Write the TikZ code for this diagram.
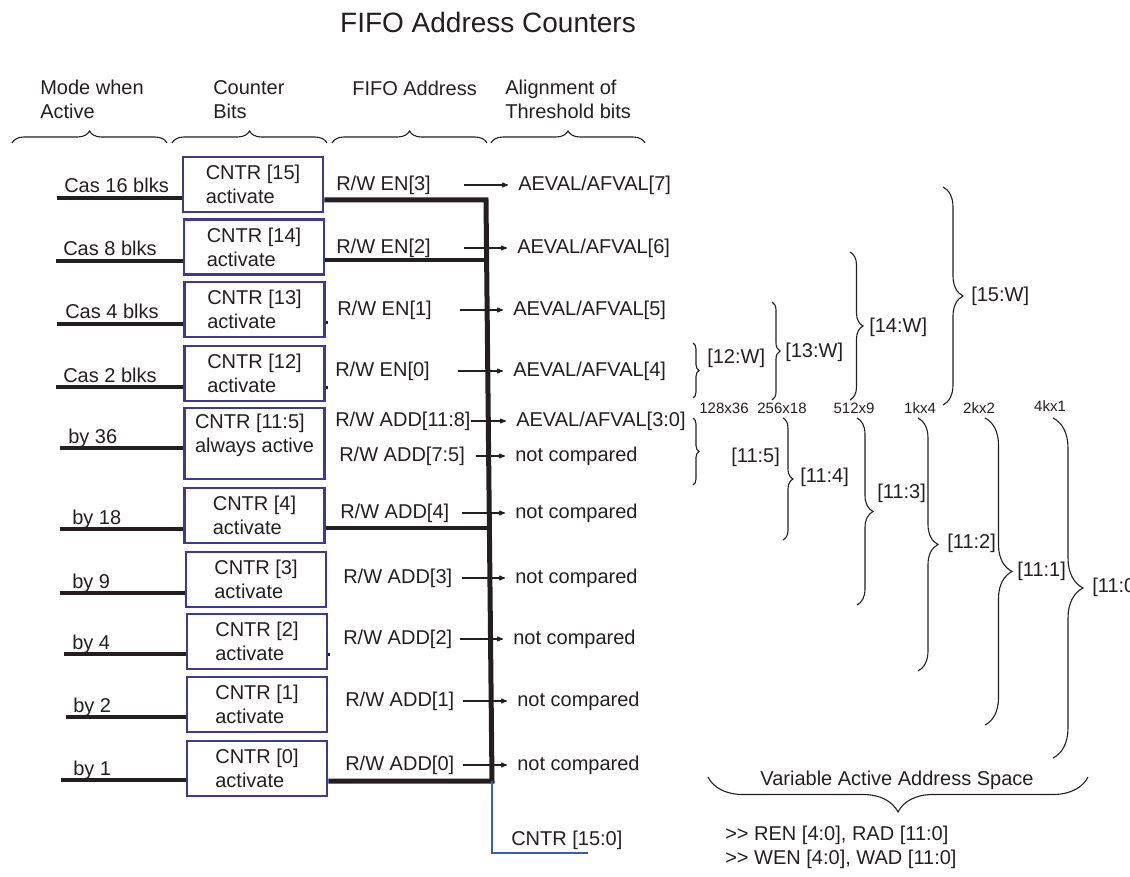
\documentclass[tikz,border=0pt]{standalone}
\usepackage{fontspec}
\setmainfont{Liberation Sans}
\usetikzlibrary{arrows,decorations.pathreplacing}
\definecolor{boxblue}{RGB}{62,56,150}
\definecolor{wireblue}{RGB}{60,92,180}
\definecolor{ink}{RGB}{35,31,32}

\begin{document}
\begin{tikzpicture}[x=1pt,y=-1pt,>=stealth',semithick,
	every node/.style={font=\fontsize{20}{24}\selectfont,text=ink,inner sep=0pt},
	cntr/.style={draw=boxblue,line width=2.5pt,minimum width=140pt,minimum height=55pt,align=left},
	wire/.style={draw=ink,line width=4.5pt},
	tick/.style={->,draw=ink,line width=1.1pt,shorten >=10pt},
	brc/.style={draw=ink,line width=1.1pt,decorate,decoration={brace,amplitude=#1}},
	small/.style={font=\fontsize{15}{18}\selectfont}]
		\useasboundingbox (0,0) rectangle (1130,877);
		\node[font=\fontsize{28}{32}\selectfont] (ttl) at (488,22) {FIFO Address Counters};
		% column heads
		\node[anchor=north west,align=left] (h1) at (40,80) {Mode when\\Active};
		\node[anchor=north west,align=left] (h2) at (213,80) {Counter\\Bits};
		\node[anchor=west] (h3) at (352,88) {FIFO Address};
		\node[anchor=north west,align=left] (h4) at (505,80) {Alignment of\\Threshold bits};
		\draw[brc=12] (12,143) -- (167,143);
		\draw[brc=12] (172,143) -- (327,143);
		\draw[brc=12] (332,143) -- (487,143);
		\draw[brc=12] (491,143) -- (645,143);
		% counter blocks
		\node[cntr] (c15) at (253,184.5) {CNTR [15]\\activate};
		\node[cntr] (c14) at (254,247) {CNTR [14]\\activate};
		\node[cntr] (c13) at (254.5,309.5) {CNTR [13]\\activate};
		\node[cntr] (c12) at (254.5,373.5) {CNTR [12]\\activate};
		\node[cntr,minimum height=71pt] (c11) at (254.5,443.5) {};
		\node[anchor=north,align=left] (c11t) at (254.5,414) {CNTR [11:5]\\always active};
		\node[cntr] (c4) at (254.5,515.5) {CNTR [4]\\activate};
		\node[cntr] (c3) at (256,579.5) {CNTR [3]\\activate};
		\node[cntr] (c2) at (257,641.5) {CNTR [2]\\activate};
		\node[cntr] (c1) at (257,704.5) {CNTR [1]\\activate};
		\node[cntr] (c0) at (257,768.5) {CNTR [0]\\activate};
		% modes
		\node[anchor=base west] (m15) at (64,193) {Cas 16 blks};
		\node[anchor=base west] (m14) at (63,256) {Cas 8 blks};
		\node[anchor=base west] (m13) at (65,319) {Cas 4 blks};
		\node[anchor=base west] (m12) at (63,382) {Cas 2 blks};
		\node[anchor=base west] (m11) at (68,443) {by 36};
		\node[anchor=base west] (m4) at (72,524) {by 18};
		\node[anchor=base west] (m3) at (72,588) {by 9};
		\node[anchor=base west] (m2) at (72,649) {by 4};
		\node[anchor=base west] (m1) at (73,712) {by 2};
		\node[anchor=base west] (m0) at (73,775) {by 1};
		\coordinate (i15) at (57,198);
		\coordinate (i14) at (56,261);
		\coordinate (i13) at (57,324);
		\coordinate (i12) at (56,387);
		\coordinate (i11) at (60,448);
		\coordinate (i4) at (60,529);
		\coordinate (i3) at (60,593);
		\coordinate (i2) at (64,654);
		\coordinate (i1) at (66,717);
		\coordinate (i0) at (61,780);
		\draw[wire] (i15) -- (i15 -| c15.west);
		\draw[wire] (i14) -- (i14 -| c14.west);
		\draw[wire] (i13) -- (i13 -| c13.west);
		\draw[wire] (i12) -- (i12 -| c12.west);
		\draw[wire] (i11) -- (i11 -| c11.west);
		\draw[wire] (i4) -- (i4 -| c4.west);
		\draw[wire] (i3) -- (i3 -| c3.west);
		\draw[wire] (i2) -- (i2 -| c2.west);
		\draw[wire] (i1) -- (i1 -| c1.west);
		\draw[wire] (i0) -- (i0 -| c0.west);
		% address bus
		\coordinate (bt) at (486,200);
		\coordinate (bb) at (492,781);
		\coordinate (j14) at (487,260);
		\coordinate (j4) at (489,528);
		\coordinate (cb) at (588,853);
		\draw[wire,line width=5pt] (bt -| c15.east) -- (bt) -- (bb) -- (bb -| c0.east);
		\draw[wire] (j14 -| c14.east) -- (j14);
		\draw[wire] (j4 -| c4.east) -- (j4);
		\draw[wire,line width=3pt] ([yshift=-13.5]c13.east) -- ++(2,0);
		\draw[wire,line width=3pt] ([yshift=-13.5]c12.east) -- ++(2,0);
		\draw[wire,line width=3pt] ([yshift=-12.5]c2.east) -- ++(2,0);
		\draw[wireblue,line width=1.8pt] (bb) -- (bb |- cb) -- (cb);
		\node[anchor=west] (cnt) at (511,840) {CNTR [15:0]};
		% address bits and thresholds
		\node[anchor=west] (f7) at (336,185) {R/W EN[3]};
		\node[anchor=west] (f6) at (336,248) {R/W EN[2]};
		\node[anchor=west] (f5) at (337,310) {R/W EN[1]};
		\node[anchor=west] (f4) at (335,371) {R/W EN[0]};
		\node[anchor=west] (f30) at (335,421) {R/W ADD[11:8]};
		\node[anchor=west] (fn75) at (339,456) {R/W ADD[7:5]};
		\node[anchor=west] (fn4) at (340,513) {R/W ADD[4]};
		\node[anchor=west] (fn3) at (343,578) {R/W ADD[3]};
		\node[anchor=west] (fn2) at (343,639) {R/W ADD[2]};
		\node[anchor=west] (fn1) at (345,701) {R/W ADD[1]};
		\node[anchor=west] (fn0) at (345,765) {R/W ADD[0]};
		\node[anchor=west] (t7) at (518,185) {AEVAL/AFVAL[7]};
		\node[anchor=west] (t6) at (517,248) {AEVAL/AFVAL[6]};
		\node[anchor=west] (t5) at (513,310) {AEVAL/AFVAL[5]};
		\node[anchor=west] (t4) at (513,371) {AEVAL/AFVAL[4]};
		\node[anchor=west] (t30) at (516,421) {AEVAL/AFVAL[3:0]};
		\node[anchor=west] (tn75) at (515,456) {not compared};
		\node[anchor=west] (tn4) at (515,513) {not compared};
		\node[anchor=west] (tn3) at (515,578) {not compared};
		\node[anchor=west] (tn2) at (513,639) {not compared};
		\node[anchor=west] (tn1) at (517,701) {not compared};
		\node[anchor=west] (tn0) at (517,765) {not compared};
		\draw[tick] (f7.east) ++(33,0) -- (t7.west);
		\draw[tick] (f6.east) ++(33,0) -- (t6.west);
		\draw[tick] (f5.east) ++(28,0) -- (t5.west);
		\draw[tick] (f4.east) ++(28,0) -- (t4.west);
		\draw[tick] (f30.east) -- (t30.west);
		\draw[tick] (fn75.east) ++(11,0) -- (tn75.west);
		\draw[tick] (fn4.east) ++(12,0) -- (tn4.west);
		\draw[tick] (fn3.east) ++(9,0) -- (tn3.west);
		\draw[tick] (fn2.east) ++(7,0) -- (tn2.west);
		\draw[tick] (fn1.east) ++(8,0) -- (tn1.west);
		\draw[tick] (fn0.east) ++(8,0) -- (tn0.west);
		% threshold width braces
		\draw[brc=6] (693,343) -- (693,398);
		\draw[brc=8] (772,302) -- (772,400);
		\draw[brc=13] (850,252) -- (850,400);
		\draw[brc=20] (943,187) -- (943,405);
		\node[anchor=west] (w12) at (707,358) {[12:W]};
		\node[anchor=west] (w13) at (785,352) {[13:W]};
		\node[anchor=west] (w14) at (869,327) {[14:W]};
		\node[anchor=west] (w15) at (971,296) {[15:W]};
		% depth x width
		\node[small] (d36) at (724,408) {128x36};
		\node[small] (d18) at (782,408) {256x18};
		\node[small] (d9) at (854,408) {512x9};
		\node[small] (d4) at (920,408) {1kx4};
		\node[small] (d2) at (979,408) {2kx2};
		\node[small] (d1) at (1050,406) {4kx1};
		% address space braces
		\draw[brc=6] (693,418) -- (693,485);
		\draw[brc=10] (783,418) -- (783,540);
		\draw[brc=16] (857,418) -- (857,605);
		\draw[brc=20] (918,418) -- (918,671);
		\draw[brc=27] (985,418) -- (985,725);
		\draw[brc=30] (1053,418) -- (1053,758);
		\node[anchor=west] (a5) at (731,457) {[11:5]};
		\node[anchor=west] (a4) at (800,477) {[11:4]};
		\node[anchor=west] (a3) at (877,493) {[11:3]};
		\node[anchor=west] (a2) at (947,543) {[11:2]};
		\node[anchor=west] (a1) at (1017,571) {[11:1]};
		\node[anchor=west] (a0) at (1092,587) {[11:0]};
		\draw[brc=35] (1088,777) -- (708,777);
		\node (vas) at (897,780) {Variable Active Address Space};
		\node[anchor=west,align=left] (rw) at (725,847.5) {>{}> REN [4:0], RAD [11:0]\\>{}> WEN [4:0], WAD [11:0]};
\end{tikzpicture}
\end{document}
